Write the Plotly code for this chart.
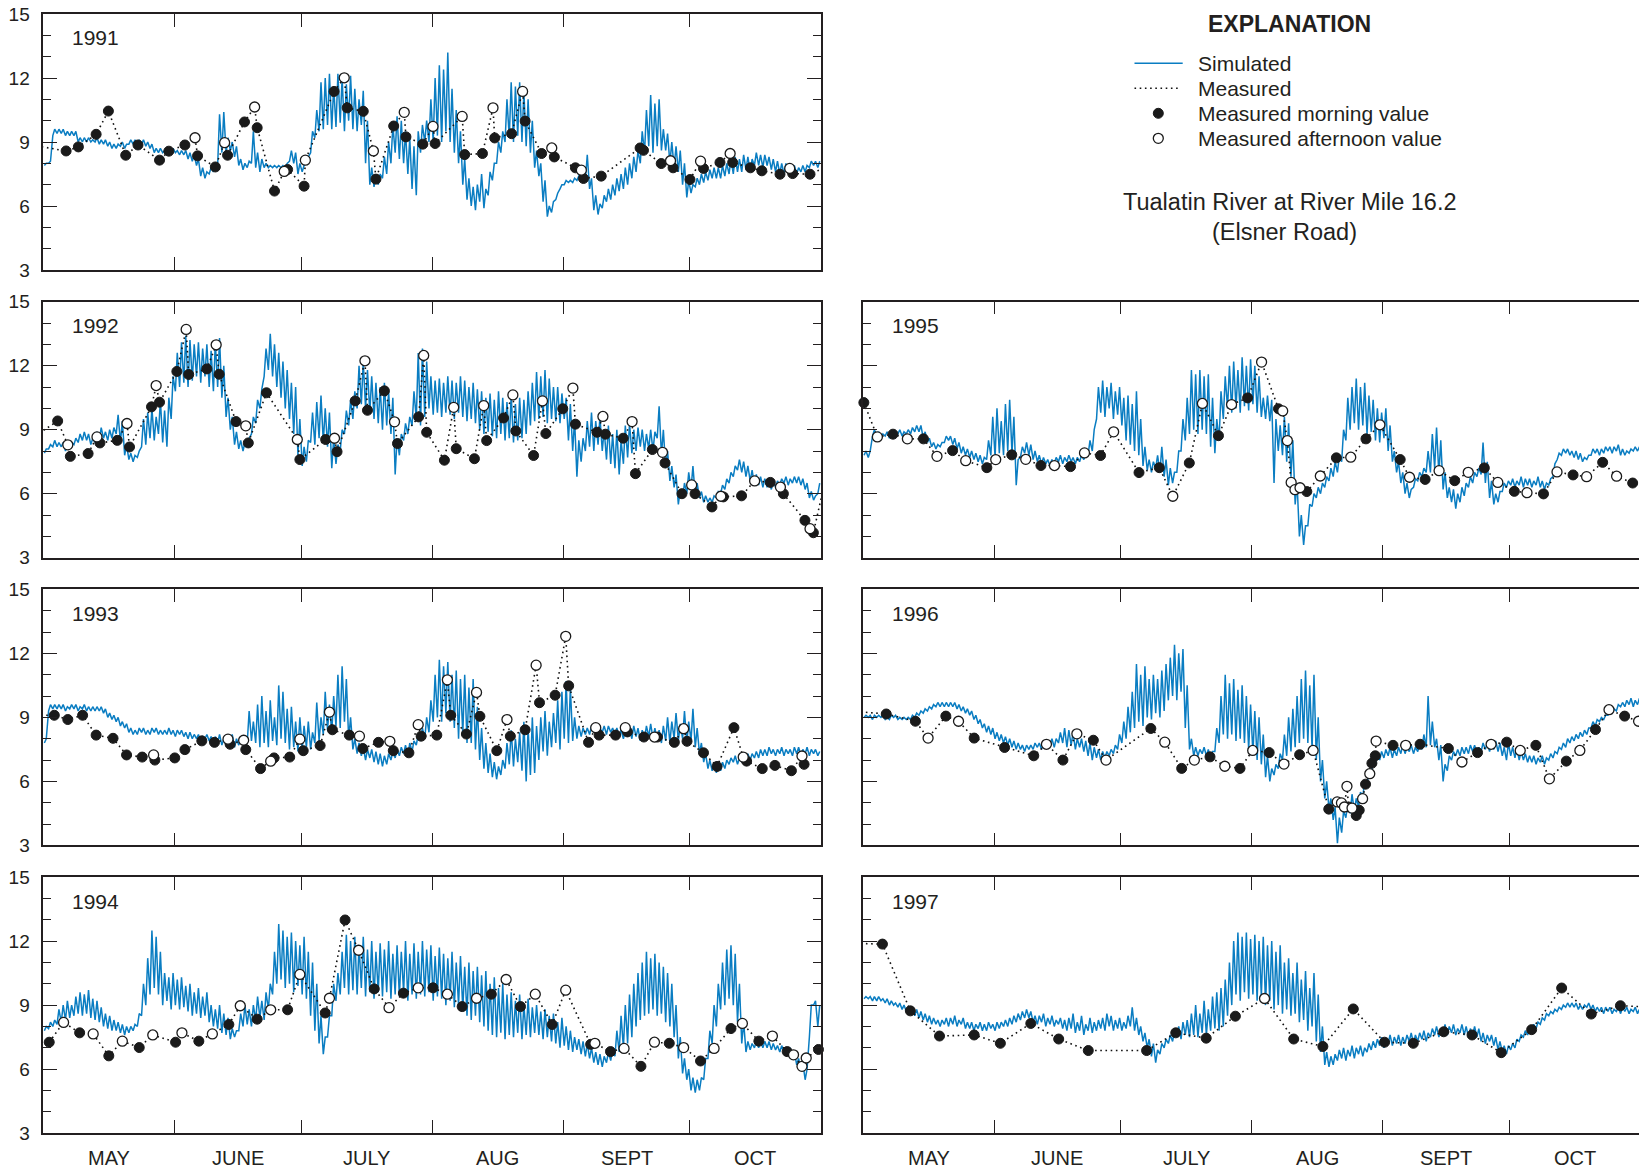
import plotly.graph_objects as go
from datetime import datetime, timedelta

# ---------------------------------------------------------------------------
# Dissolved oxygen (mg/L), Tualatin River at River Mile 16.2, May-October.
# Simulated series: daily morning low / afternoon high, one value per day from May 1.
# Measured series: day offsets from May 1 (fractional) and values.
# ---------------------------------------------------------------------------

sim_lo_1991 = [7.9, 8.0, 9.3, 9.4, 9.4, 9.3, 9.3, 9.3, 9.0, 9.0,
               9.0, 9.0, 9.0, 8.9, 8.9, 8.8, 8.7, 8.7, 8.8, 8.7,
               8.9, 8.9, 8.9, 8.9, 8.8, 8.7, 8.5, 8.5, 8.5, 8.4,
               8.5, 8.5, 8.4, 8.4, 8.2, 8.1, 7.9, 7.4, 7.3, 7.5,
               7.6, 7.9, 8.5, 8.5, 8.6, 8.3, 7.9, 7.7, 7.8, 8.0,
               7.8, 7.6, 7.8, 7.8, 7.8, 7.8, 7.8, 7.8, 8.1, 8.0,
               7.5, 7.6, 8.0, 8.5, 9.2, 9.5, 9.6, 9.8, 9.6, 9.7,
               9.9, 9.5, 10.0, 9.6, 9.5, 9.8, 8.0, 7.0, 6.9, 7.0,
               7.3, 7.5, 8.0, 8.5, 8.2, 8.0, 7.5, 6.8, 6.5, 8.5,
               9.0, 9.0, 9.0, 9.3, 9.0, 9.5, 9.0, 8.5, 8.0, 7.0,
               6.3, 6.0, 5.8, 6.2, 5.9, 6.5, 7.2, 8.0, 8.5, 9.0,
               9.2, 9.0, 9.3, 9.0, 8.8, 8.5, 7.8, 7.4, 6.2, 5.5,
               5.7, 6.3, 6.8, 7.0, 7.1, 7.1, 7.2, 7.3, 7.2, 6.8,
               5.8, 5.6, 5.9, 6.2, 6.3, 6.5, 6.7, 6.8, 7.0, 7.3,
               7.6, 8.0, 8.5, 8.8, 8.5, 8.8, 8.6, 8.6, 8.0, 7.8,
               7.6, 7.0, 6.4, 6.6, 6.9, 7.0, 7.1, 7.2, 7.3, 7.3,
               7.3, 7.4, 7.5, 7.5, 7.6, 7.6, 7.7, 7.6, 7.9, 7.9,
               7.8, 7.9, 7.7, 7.6, 7.5, 7.5, 7.6, 7.5, 7.5, 7.6,
               7.6, 7.8, 7.9, 7.8]
sim_hi_1991 = [8.0, 8.1, 9.6, 9.6, 9.6, 9.5, 9.5, 9.5, 9.2, 9.2,
               9.2, 9.1, 9.2, 9.1, 9.1, 9.0, 8.9, 8.9, 9.0, 8.9,
               9.1, 9.1, 9.1, 9.1, 9.0, 8.9, 8.7, 8.7, 8.6, 8.6,
               8.7, 8.6, 8.6, 8.6, 8.5, 8.4, 8.2, 7.8, 7.6, 7.8,
               7.9, 10.3, 10.4, 9.2, 9.0, 8.8, 8.2, 8.0, 8.1, 9.5,
               8.5, 8.2, 8.0, 7.9, 7.9, 7.9, 7.9, 8.0, 8.6, 8.5,
               8.0, 7.9, 8.3, 9.5, 10.5, 11.8, 12.0, 12.2, 11.6, 12.2,
               12.0, 11.7, 12.1, 11.5, 11.0, 11.4, 10.0, 7.8, 7.4, 7.5,
               8.3, 9.0, 9.8, 10.2, 10.0, 9.5, 9.2, 8.8, 9.5, 9.8,
               10.0, 11.0, 12.0, 12.6, 12.4, 13.2, 11.5, 10.5, 9.5, 8.2,
               7.3, 6.9, 7.0, 7.5, 6.8, 7.6, 8.0, 9.0, 9.5, 11.0,
               11.8, 11.6, 11.8, 11.4, 11.0, 10.0, 8.6, 8.0, 7.2, 6.0,
               6.2, 6.6, 7.0, 7.2, 7.2, 7.3, 7.4, 7.5, 8.4, 7.3,
               6.5, 6.1, 6.5, 6.8, 7.0, 7.3, 7.5, 7.8, 8.0, 8.3,
               8.6, 9.5, 10.5, 11.2, 10.8, 11.0, 9.6, 9.4, 9.0, 8.8,
               8.6, 8.0, 7.2, 7.0, 7.3, 7.5, 7.6, 7.7, 7.8, 7.8,
               7.9, 8.0, 8.2, 8.3, 8.2, 8.4, 8.3, 8.2, 8.5, 8.4,
               8.4, 8.3, 8.2, 8.1, 8.0, 8.0, 7.9, 7.9, 7.8, 7.9,
               7.9, 8.1, 8.1, 8.1]

sim_lo_1992 = [7.9, 8.1, 8.2, 8.2, 8.2, 8.0, 8.1, 8.3, 8.4, 8.5,
               8.5, 8.3, 8.4, 8.5, 8.6, 8.5, 8.6, 8.8, 8.4, 7.8,
               7.6, 7.5, 7.7, 8.2, 8.3, 8.6, 8.5, 8.8, 8.4, 8.2,
               9.5, 10.8, 11.0, 11.2, 11.0, 11.3, 11.5, 11.2, 11.5, 11.0,
               10.8, 11.0, 10.5, 9.6, 9.0, 8.3, 8.1, 8.0, 8.2, 8.8,
               9.3, 10.0, 11.5, 11.8, 11.5, 11.0, 10.5, 10.0, 9.5, 8.8,
               7.8, 7.3, 7.5, 8.4, 8.3, 8.6, 8.4, 8.2, 7.2, 7.4,
               8.0, 8.8, 9.2, 9.5, 10.0, 10.2, 10.0, 9.8, 9.5, 9.3,
               9.0, 9.2, 8.8, 6.9, 7.8, 8.5, 8.8, 9.2, 9.5, 9.2,
               9.6, 10.0, 9.7, 9.8, 9.6, 9.8, 9.7, 9.5, 9.8, 9.6,
               9.4, 9.5, 9.3, 9.0, 8.8, 8.9, 8.7, 8.6, 8.8, 8.5,
               8.6, 8.4, 8.5, 8.6, 8.8, 9.2, 9.4, 9.5, 9.6, 9.3,
               9.5, 9.4, 9.3, 9.5, 8.5, 8.0, 6.8, 7.5, 8.0, 8.2,
               8.0, 8.3, 8.0, 7.6, 7.4, 7.2, 6.9, 7.4, 7.7, 7.9,
               8.0, 8.2, 8.0, 8.1, 8.0, 8.6, 7.8, 7.2, 6.6, 6.3,
               5.5, 5.8, 6.0, 6.2, 5.9, 5.8, 5.6, 5.6, 5.6, 5.8,
               6.0, 6.2, 6.5, 6.8, 7.1, 7.0, 6.8, 6.6, 6.4, 6.4,
               6.3, 6.3, 6.2, 6.3, 6.4, 6.5, 6.4, 6.5, 6.5, 6.4,
               6.2, 5.8, 5.7, 6.0]
sim_hi_1992 = [8.1, 8.3, 8.5, 8.4, 8.4, 8.3, 8.4, 8.6, 8.8, 8.9,
               8.8, 8.6, 8.9, 9.1, 8.9, 9.0, 9.1, 9.7, 9.4, 8.3,
               7.9, 7.8, 8.0, 9.5, 9.8, 10.0, 9.6, 10.4, 9.9, 10.5,
               11.5, 12.6, 13.1, 13.4, 13.2, 13.0, 13.1, 12.8, 13.0, 12.7,
               13.1, 13.3, 12.0, 10.5, 9.6, 8.9, 8.5, 8.4, 8.6, 9.6,
               10.4, 10.9, 12.8, 13.5, 13.0, 12.6, 12.2, 11.8, 11.2, 11.0,
               9.5, 8.2, 8.5, 9.8, 10.3, 10.6, 10.0, 9.8, 8.6, 8.3,
               9.0, 9.9, 10.4, 10.8, 12.0, 12.2, 11.8, 11.5, 11.2, 11.0,
               11.2, 10.8, 10.5, 8.6, 8.8, 9.3, 9.6, 10.8, 12.6, 12.8,
               12.2, 11.5, 11.3, 11.4, 11.2, 11.5, 11.3, 11.2, 11.5, 11.3,
               11.0, 11.2, 10.9, 10.8, 10.5, 10.7, 10.4, 10.8, 10.5, 10.3,
               10.6, 10.2, 10.5, 10.4, 10.8, 11.2, 11.7, 11.5, 11.8, 11.4,
               11.0, 11.0, 10.7, 10.5, 10.2, 9.5, 8.5, 8.6, 9.4, 9.8,
               9.4, 9.6, 9.0, 9.2, 8.8, 9.0, 8.5, 9.2, 9.3, 9.0,
               9.1, 9.0, 8.8, 9.0, 8.9, 10.1, 9.0, 8.0, 7.3, 6.9,
               6.2, 6.5, 7.0, 7.3, 6.5, 6.1, 5.9, 5.8, 5.9, 6.1,
               6.4, 6.7, 7.0, 7.3, 7.6, 7.5, 7.3, 7.1, 6.9, 6.8,
               6.7, 6.6, 6.6, 6.6, 6.7, 6.8, 6.7, 6.8, 6.8, 6.7,
               6.5, 6.1, 5.9, 6.5]

sim_lo_1993 = [7.8, 9.3, 9.4, 9.4, 9.4, 9.3, 9.4, 9.4, 9.3, 9.4,
               9.3, 9.3, 9.3, 9.3, 9.2, 9.0, 8.9, 8.8, 8.6, 8.5,
               8.3, 8.2, 8.2, 8.3, 8.2, 8.2, 8.3, 8.2, 8.2, 8.2,
               8.2, 8.1, 8.2, 8.1, 8.0, 8.0, 8.0, 7.9, 8.0, 7.9,
               7.8, 7.8, 7.7, 7.8, 7.8, 7.6, 7.7, 7.8, 7.8, 7.9,
               7.8, 7.6, 7.8, 7.6, 7.9, 7.7, 8.0, 7.8, 7.5, 7.6,
               7.4, 7.5, 7.6, 7.5, 7.8, 7.9, 8.2, 8.4, 8.3, 8.6,
               8.5, 8.8, 8.0, 7.5, 7.3, 7.2, 7.0, 7.1, 6.9, 6.8,
               6.7, 6.8, 7.0, 7.1, 7.2, 7.3, 7.2, 7.4, 7.7, 7.9,
               8.0, 8.3, 8.8, 9.0, 8.8, 9.2, 8.8, 8.5, 8.0, 8.2,
               7.8, 7.8, 7.5, 7.0, 6.6, 6.4, 6.2, 6.1, 6.3, 6.6,
               6.8, 6.7, 6.9, 6.5, 6.0, 6.3, 6.4, 7.0, 7.4, 7.2,
               7.6, 7.8, 7.5, 8.0, 7.8, 7.9, 8.0, 8.1, 8.2, 8.2,
               8.3, 8.2, 8.3, 8.2, 8.3, 8.2, 8.1, 8.0, 8.1, 8.0,
               8.1, 7.9, 8.0, 8.1, 8.0, 7.9, 7.8, 7.9, 7.8, 8.0,
               7.9, 8.0, 7.8, 7.9, 7.6, 7.3, 6.9, 6.6, 6.5, 6.4,
               6.5, 6.6, 6.8, 6.9, 6.8, 6.9, 7.0, 7.0, 7.1, 7.1,
               7.2, 7.2, 7.3, 7.2, 7.3, 7.2, 7.3, 7.2, 7.3, 7.2,
               7.3, 7.2, 7.3, 7.2]
sim_hi_1993 = [8.0, 9.6, 9.6, 9.6, 9.6, 9.5, 9.6, 9.6, 9.5, 9.6,
               9.5, 9.5, 9.5, 9.5, 9.4, 9.2, 9.1, 9.0, 8.8, 8.7,
               8.5, 8.4, 8.5, 8.5, 8.4, 8.5, 8.5, 8.4, 8.4, 8.5,
               8.4, 8.4, 8.4, 8.3, 8.3, 8.2, 8.2, 8.1, 8.2, 8.1,
               8.1, 8.2, 8.0, 8.1, 8.2, 8.0, 8.1, 8.1, 9.3, 8.8,
               9.6, 10.0, 9.3, 9.8, 9.0, 10.5, 10.2, 9.4, 9.5, 8.8,
               9.0, 8.6, 8.8, 8.3, 9.7, 9.0, 10.2, 9.6, 10.0, 11.0,
               11.4, 10.8, 9.0, 8.0, 7.8, 7.6, 7.5, 7.5, 7.4, 7.3,
               7.2, 7.3, 7.4, 7.5, 7.6, 7.7, 7.8, 7.9, 8.2, 8.5,
               9.0, 9.8, 11.0, 11.7, 11.4, 11.6, 11.0, 11.2, 10.8, 11.0,
               10.4, 10.8, 9.5, 8.5, 7.8, 7.3, 6.9, 6.7, 7.0, 7.8,
               8.4, 8.0, 8.3, 8.8, 8.5, 9.0, 8.6, 9.0, 9.3, 8.8,
               9.2, 9.8, 10.2, 10.7, 10.4, 9.0, 8.6, 8.5, 8.5, 8.6,
               8.6, 8.5, 8.6, 8.6, 8.5, 8.5, 8.4, 8.4, 8.5, 8.6,
               8.5, 8.4, 8.6, 8.7, 8.5, 8.4, 8.6, 9.0, 8.8, 9.2,
               8.7, 9.3, 8.8, 9.4, 8.5, 7.8, 7.3, 7.0, 6.9, 6.8,
               6.9, 7.0, 7.1, 7.2, 7.1, 7.2, 7.3, 7.3, 7.4, 7.5,
               7.5, 7.6, 7.5, 7.5, 7.6, 7.5, 7.5, 7.6, 7.6, 7.5,
               7.6, 7.5, 7.5, 7.4]

sim_lo_1994 = [7.8, 7.9, 8.0, 8.1, 8.2, 8.3, 8.4, 8.5, 8.6, 8.5,
               8.6, 8.4, 8.3, 8.2, 8.0, 7.9, 7.8, 7.8, 7.7, 7.6,
               7.7, 7.8, 8.0, 8.5, 9.0, 9.5, 9.8, 9.5, 9.0, 9.2,
               8.8, 9.0, 8.8, 8.9, 8.7, 8.5, 8.6, 8.4, 8.5, 8.2,
               8.0, 7.9, 7.7, 7.6, 7.4, 7.5, 7.8, 8.0, 8.1, 8.0,
               8.3, 8.4, 8.3, 8.8, 9.5, 10.0, 10.2, 9.8, 10.0, 9.6,
               9.9, 9.5, 9.3, 8.5, 7.8, 7.2, 6.7, 7.5, 8.5, 9.2,
               9.5, 9.8, 9.5, 9.7, 9.5, 9.8, 9.4, 9.6, 9.3, 9.6,
               9.4, 9.6, 9.3, 9.5, 9.4, 9.6, 9.2, 9.5, 9.3, 9.5,
               9.4, 9.6, 9.2, 9.4, 9.3, 9.0, 9.2, 8.9, 9.0, 8.8,
               8.5, 8.3, 8.5, 8.2, 8.0, 7.8, 7.6, 7.5, 7.7, 7.4,
               7.6, 7.5, 7.7, 7.4, 7.6, 7.5, 7.7, 7.6, 7.4, 7.5,
               7.3, 7.2, 7.0, 7.1, 6.9, 6.8, 6.9, 6.7, 6.6, 6.5,
               6.3, 6.2, 6.1, 6.3, 6.4, 6.6, 6.8, 7.0, 7.2, 7.5,
               8.0, 8.3, 8.5, 8.6, 8.8, 8.5, 8.6, 8.2, 8.0, 7.5,
               6.5, 5.8, 5.5, 5.0, 4.9, 5.0, 5.5, 6.5, 7.2, 8.0,
               8.8, 9.0, 9.3, 9.0, 8.2, 7.2, 6.8, 6.9, 7.0, 7.0,
               7.0, 7.0, 6.9, 6.9, 6.8, 6.8, 6.7, 6.5, 6.2, 6.0,
               5.5, 7.5, 9.0, 8.0]
sim_hi_1994 = [8.0, 8.2, 8.3, 8.8, 9.0, 9.2, 9.0, 9.4, 9.6, 9.5,
               9.7, 9.3, 9.2, 8.9, 8.6, 8.5, 8.3, 8.2, 8.1, 8.0,
               8.0, 8.1, 8.6, 10.0, 11.2, 12.5, 12.2, 11.5, 10.5, 10.3,
               10.5, 10.2, 10.3, 9.9, 10.0, 9.6, 9.8, 9.4, 9.6, 9.0,
               8.8, 9.0, 8.6, 8.4, 7.9, 7.8, 8.6, 9.0, 8.8, 9.0,
               9.4, 9.2, 9.6, 10.0, 11.5, 12.8, 12.5, 12.2, 12.4, 12.0,
               11.8, 12.2, 11.5, 11.0, 10.0, 8.5, 7.5, 8.5, 10.0, 10.5,
               11.5, 12.3, 12.0, 12.2, 11.8, 12.2, 11.6, 12.0, 11.5, 11.9,
               11.6, 12.0, 11.4, 11.8, 11.5, 12.0, 11.4, 11.9, 11.5, 12.0,
               11.6, 11.8, 11.3, 11.7, 11.4, 11.2, 11.5, 11.0, 11.3, 10.8,
               11.0, 10.6, 10.8, 10.4, 10.6, 10.0, 10.3, 9.8, 10.0, 9.5,
               9.6, 9.2, 9.5, 9.0, 9.3, 8.9, 9.0, 8.7, 8.8, 8.5,
               8.6, 8.2, 8.4, 8.0, 7.8, 7.5, 7.4, 7.3, 7.2, 7.0,
               6.8, 6.7, 6.6, 6.8, 7.0, 7.8, 8.5, 9.0, 9.5, 10.0,
               10.5, 11.0, 11.5, 11.2, 11.4, 11.0, 10.8, 10.5, 10.0, 9.0,
               7.5, 6.5, 6.0, 5.6, 5.5, 5.6, 6.5, 7.8, 9.0, 10.0,
               11.0, 11.6, 11.8, 11.4, 10.0, 8.2, 7.3, 7.2, 7.3, 7.3,
               7.3, 7.3, 7.2, 7.1, 7.1, 7.0, 7.0, 6.8, 6.5, 6.3,
               6.0, 9.0, 9.2, 9.0]

sim_lo_1995 = [7.8, 7.7, 8.7, 8.7, 8.6, 8.7, 8.6, 8.7, 8.8, 8.7,
               8.8, 8.8, 8.9, 8.9, 8.6, 8.4, 8.2, 8.1, 8.2, 8.4,
               8.5, 8.3, 8.1, 7.9, 7.8, 7.7, 7.6, 7.5, 7.4, 7.6,
               7.8, 7.7, 7.9, 7.8, 8.0, 7.9, 6.4, 7.7, 7.9, 7.8,
               7.6, 7.5, 7.4, 7.4, 7.3, 7.4, 7.5, 7.4, 7.5, 7.5,
               7.4, 7.5, 7.6, 7.8, 8.0, 9.5, 9.8, 9.6, 10.0, 9.5,
               9.7, 9.2, 8.5, 8.3, 8.0, 7.8, 7.3, 7.1, 7.0, 7.2,
               7.0, 6.8, 6.4, 6.5, 7.0, 8.0, 8.5, 8.8, 9.0, 8.8,
               9.0, 8.8, 8.2, 7.9, 8.5, 9.5, 10.0, 9.8, 10.0, 9.8,
               10.1, 9.9, 10.2, 9.8, 9.6, 9.5, 9.4, 6.5, 8.0, 7.8,
               7.5, 6.8, 5.5, 4.0, 3.6, 4.5, 5.4, 5.8, 6.0, 6.3,
               6.6, 6.8, 7.0, 7.5, 8.5, 9.0, 9.3, 9.0, 9.2, 8.8,
               8.9, 8.5, 8.4, 8.6, 8.0, 7.5, 7.0, 6.5, 6.0, 5.8,
               6.3, 6.6, 6.8, 7.0, 7.0, 7.2, 6.9, 6.2, 5.8, 5.6,
               5.3, 5.6, 5.9, 6.3, 6.5, 6.8, 6.9, 6.5, 5.8, 5.5,
               5.6, 6.1, 6.3, 6.4, 6.3, 6.4, 6.3, 6.4, 6.3, 6.4,
               6.3, 6.2, 6.4, 6.8, 7.6, 7.8, 7.9, 7.8, 7.7, 7.6,
               7.5, 7.6, 7.8, 7.9, 7.8, 7.9, 8.0, 7.9, 8.0, 7.8,
               7.8, 7.9, 8.0, 8.0]
sim_hi_1995 = [8.0, 8.0, 9.0, 8.9, 8.8, 8.9, 8.9, 8.9, 9.0, 8.9,
               9.0, 9.1, 9.2, 9.2, 8.9, 8.6, 8.4, 8.3, 8.4, 8.7,
               8.7, 8.6, 8.4, 8.2, 8.1, 8.0, 7.9, 7.8, 7.7, 8.5,
               9.6, 10.0, 9.4, 10.2, 10.4, 9.6, 7.6, 8.2, 8.4, 8.3,
               8.0, 7.8, 7.7, 7.6, 7.6, 7.7, 7.8, 7.7, 7.8, 7.7,
               7.7, 7.8, 7.8, 8.5, 9.0, 11.0, 11.3, 11.0, 11.2, 10.8,
               11.0, 10.5, 10.6, 10.2, 10.8, 9.5, 8.2, 7.6, 7.5, 7.8,
               8.2, 7.6, 7.2, 7.0, 8.0, 9.5, 10.5, 11.8, 11.6, 11.8,
               11.5, 11.6, 10.5, 9.5, 10.8, 11.5, 12.0, 12.2, 11.8, 12.4,
               12.0, 12.3, 12.0, 11.5, 10.5, 10.6, 10.4, 9.5, 9.2, 9.6,
               9.3, 8.5, 6.5, 5.0, 4.5, 5.5, 6.0, 6.3, 6.5, 6.8,
               7.2, 7.5, 7.8, 9.0, 10.5, 11.0, 11.4, 11.0, 11.2, 10.6,
               10.4, 10.0, 9.8, 10.0, 9.2, 8.0, 7.5, 7.0, 6.5, 6.2,
               6.7, 7.0, 7.2, 8.0, 8.8, 9.1, 8.5, 7.0, 6.3, 6.2,
               6.0, 6.3, 6.5, 6.8, 7.0, 7.2, 8.4, 7.5, 6.6, 6.0,
               6.1, 6.5, 6.6, 6.7, 6.6, 6.8, 6.7, 6.7, 6.6, 6.8,
               6.6, 6.5, 6.7, 7.4, 7.9, 8.1, 8.1, 8.0, 8.0, 7.9,
               7.7, 7.8, 8.1, 8.1, 8.1, 8.2, 8.2, 8.2, 8.3, 8.1,
               8.0, 8.1, 8.2, 8.2]

sim_lo_1996 = [9.0, 9.0, 8.9, 9.0, 9.0, 8.9, 8.9, 9.0, 8.9, 8.9,
               8.9, 8.9, 9.0, 9.1, 9.2, 9.3, 9.4, 9.5, 9.5, 9.5,
               9.5, 9.5, 9.4, 9.3, 9.2, 9.1, 8.9, 8.7, 8.5, 8.3,
               8.2, 8.0, 7.9, 7.8, 7.7, 7.6, 7.5, 7.5, 7.4, 7.5,
               7.5, 7.6, 7.5, 7.6, 7.7, 7.6, 7.8, 7.8, 7.6, 7.7,
               7.5, 7.6, 7.4, 7.2, 7.0, 7.1, 7.0, 7.1, 7.2, 7.3,
               7.5, 7.8, 8.0, 8.3, 8.5, 8.8, 8.6, 9.0, 8.9, 9.2,
               9.0, 9.3, 9.8, 10.0, 9.8, 10.2, 8.5, 7.5, 7.2, 7.2,
               7.3, 7.2, 7.0, 7.4, 7.8, 8.2, 8.0, 8.2, 7.9, 8.0,
               7.8, 7.5, 7.3, 7.0, 6.8, 6.2, 6.0, 6.3, 6.6, 7.0,
               7.2, 7.4, 7.6, 7.8, 8.0, 7.8, 7.5, 7.0, 6.0, 5.2,
               4.7, 4.2, 3.1, 3.6, 4.3, 4.5, 4.6, 4.8, 5.3, 5.8,
               6.3, 6.8, 7.0, 7.1, 7.2, 7.1, 7.2, 7.3, 7.3, 7.4,
               7.3, 7.4, 7.5, 7.6, 7.7, 7.6, 7.0, 6.0, 6.5, 7.0,
               7.2, 7.2, 7.3, 7.3, 7.4, 7.3, 7.4, 7.5, 7.4, 7.5,
               7.4, 7.2, 7.0, 7.2, 7.1, 7.0, 7.0, 6.9, 6.9, 6.8,
               6.9, 6.8, 7.0, 7.1, 7.3, 7.5, 7.6, 7.8, 7.9, 8.0,
               8.1, 8.2, 8.5, 8.6, 8.8, 8.9, 9.1, 9.2, 9.3, 9.5,
               9.5, 9.6, 9.5, 9.6]
sim_hi_1996 = [9.1, 9.1, 9.1, 9.1, 9.1, 9.0, 9.1, 9.1, 9.0, 9.0,
               9.0, 9.1, 9.2, 9.3, 9.4, 9.5, 9.6, 9.7, 9.7, 9.7,
               9.7, 9.7, 9.6, 9.5, 9.4, 9.3, 9.1, 8.9, 8.7, 8.6,
               8.5, 8.3, 8.2, 8.1, 8.0, 7.9, 7.8, 7.7, 7.7, 7.7,
               7.8, 7.8, 7.9, 7.9, 8.0, 8.0, 8.3, 8.5, 8.4, 8.3,
               8.0, 8.0, 7.9, 7.8, 7.6, 7.5, 7.4, 7.4, 7.5, 7.7,
               8.2, 8.8, 9.5, 10.2, 11.5, 11.0, 11.4, 10.8, 11.0, 10.8,
               11.2, 11.5, 11.8, 12.4, 12.0, 12.2, 10.5, 8.0, 7.6, 7.5,
               7.6, 7.5, 7.4, 8.5, 10.0, 11.0, 10.6, 10.8, 10.3, 10.5,
               10.0, 9.6, 9.3, 9.0, 8.2, 7.2, 6.6, 6.8, 7.3, 8.2,
               9.0, 9.4, 10.0, 10.8, 11.2, 10.5, 11.0, 9.0, 7.0, 6.0,
               5.2, 4.8, 4.3, 4.6, 5.0, 5.4, 5.2, 5.5, 6.0, 6.5,
               7.0, 7.3, 7.4, 7.5, 7.6, 7.5, 7.6, 7.7, 7.6, 7.7,
               7.6, 7.8, 8.2, 10.0, 8.8, 8.0, 7.7, 6.8, 7.2, 7.4,
               7.5, 7.6, 7.6, 7.7, 7.7, 7.6, 7.8, 7.8, 7.8, 7.9,
               7.8, 7.6, 7.8, 7.6, 7.6, 7.4, 7.3, 7.2, 7.2, 7.1,
               7.2, 7.1, 7.3, 7.4, 7.6, 7.8, 8.0, 8.1, 8.2, 8.3,
               8.4, 8.5, 8.8, 8.9, 9.0, 9.1, 9.3, 9.4, 9.6, 9.7,
               9.8, 9.9, 9.8, 9.9]

sim_lo_1997 = [9.3, 9.3, 9.2, 9.2, 9.2, 9.1, 9.0, 9.0, 8.9, 8.8,
               8.7, 8.6, 8.5, 8.4, 8.3, 8.2, 8.1, 8.1, 8.0, 8.1,
               8.0, 8.1, 8.0, 8.1, 7.9, 7.9, 7.8, 7.9, 7.8, 7.8,
               7.9, 7.8, 7.9, 8.0, 8.0, 8.1, 8.2, 8.3, 8.4, 8.4,
               8.2, 8.1, 8.2, 8.0, 8.1, 8.0, 8.1, 7.9, 7.8, 7.9,
               7.7, 7.8, 7.6, 7.8, 7.7, 7.8, 7.9, 7.8, 8.0, 7.8,
               7.9, 7.8, 7.9, 8.0, 7.8, 7.6, 7.3, 7.0, 6.6, 6.3,
               6.7, 7.0, 7.2, 7.3, 7.5, 7.4, 7.6, 7.5, 7.6, 7.5,
               7.7, 7.6, 7.8, 7.9, 7.8, 8.0, 8.5, 9.0, 9.5, 9.2,
               9.6, 9.3, 9.5, 9.2, 9.4, 9.0, 9.2, 8.8, 9.0, 8.6,
               8.8, 8.5, 8.6, 8.2, 8.3, 7.8, 8.0, 7.3, 6.8, 6.2,
               6.1, 6.2, 6.4, 6.5, 6.4, 6.6, 6.5, 6.7, 6.6, 6.8,
               6.9, 7.0, 7.1, 7.0, 7.2, 7.1, 7.2, 7.1, 7.2, 7.3,
               7.2, 7.3, 7.4, 7.3, 7.5, 7.6, 7.5, 7.7, 7.6, 7.7,
               7.6, 7.7, 7.6, 7.5, 7.6, 7.5, 7.3, 7.2, 7.3, 7.1,
               6.9, 6.8, 6.7, 6.9, 7.0, 7.3, 7.5, 7.6, 7.8, 7.9,
               8.1, 8.3, 8.5, 8.6, 8.7, 8.8, 8.9, 8.9, 8.9, 8.8,
               8.8, 8.9, 8.8, 8.7, 8.7, 8.6, 8.7, 8.6, 8.7, 8.6,
               8.7, 8.6, 8.7, 8.6]
sim_hi_1997 = [9.4, 9.4, 9.4, 9.4, 9.3, 9.3, 9.2, 9.1, 9.1, 9.0,
               8.9, 8.9, 8.8, 8.7, 8.6, 8.5, 8.4, 8.3, 8.3, 8.4,
               8.4, 8.5, 8.3, 8.4, 8.2, 8.2, 8.1, 8.2, 8.1, 8.2,
               8.1, 8.2, 8.2, 8.3, 8.4, 8.5, 8.6, 8.7, 8.8, 8.7,
               8.5, 8.5, 8.6, 8.4, 8.5, 8.3, 8.4, 8.3, 8.4, 8.6,
               8.2, 8.5, 8.1, 8.4, 8.2, 8.3, 8.4, 8.6, 8.5, 8.3,
               8.4, 8.2, 8.5, 8.9, 8.4, 8.0, 7.7, 7.4, 7.2, 6.9,
               7.2, 7.4, 7.6, 7.8, 8.0, 8.2, 8.3, 8.6, 9.0, 8.6,
               9.2, 8.8, 9.4, 9.6, 9.8, 10.2, 11.0, 12.0, 12.4, 12.2,
               12.4, 12.1, 12.3, 12.0, 12.2, 11.8, 12.0, 11.5, 11.8, 11.0,
               11.2, 10.5, 11.0, 10.2, 10.6, 9.8, 10.5, 9.5, 8.0, 6.8,
               6.6, 6.7, 6.9, 7.0, 6.9, 7.1, 7.0, 7.1, 7.0, 7.2,
               7.3, 7.4, 7.5, 7.4, 7.6, 7.5, 7.6, 7.5, 7.6, 7.7,
               7.6, 7.7, 7.8, 7.7, 7.9, 8.0, 7.9, 8.1, 8.0, 8.1,
               7.9, 8.1, 8.0, 7.9, 8.0, 7.9, 7.7, 7.6, 7.6, 7.5,
               7.3, 7.1, 7.1, 7.2, 7.4, 7.6, 7.8, 7.9, 8.1, 8.2,
               8.4, 8.6, 8.7, 8.8, 8.9, 9.0, 9.1, 9.1, 9.1, 9.0,
               9.0, 9.1, 9.0, 8.9, 8.9, 8.9, 8.9, 8.8, 8.9, 8.9,
               8.9, 8.8, 8.9, 8.8]

# Measured values: morning (am) and afternoon (pm) samples
am_day_1991 = [-4, 5.4, 8.3, 12.5, 15.4, 19.5, 22.4, 27.5, 29.7, 33.5, 36.5, 40.7, 43.6,
               47.6, 50.6, 54.7, 57.8, 61.7, 68.8, 71.9, 75.7, 78.7, 82.9, 85.8, 89.8,
               92.7, 99.7, 103.9, 106.8, 110.8, 114.0, 117.9, 120.9, 125.9, 127.8, 132.0,
               141.2, 142.0, 146.2, 149.0, 153.0, 156.2, 160.1, 163.1, 167.3, 170.0,
               174.3, 177.3, 181.4, 186]
am_val_1991 = [8.9, 8.58, 8.77, 9.36, 10.45, 8.38, 8.86, 8.15, 8.57, 8.86, 8.35, 7.83, 8.38,
               9.94, 9.67, 6.7, 7.71, 6.93, 11.37, 10.6, 10.44, 7.26, 9.75, 9.24, 8.9,
               8.93, 8.41, 8.46, 9.19, 9.39, 9.98, 8.46, 8.3, 7.79, 7.29, 7.4,
               8.72, 8.61, 7.99, 7.79, 7.24, 7.76, 8.04, 8.04, 7.79, 7.65,
               7.49, 7.52, 7.49, 7.9]
pm_day_1991 = [35.9, 42.9, 50.0, 57.0, 62.0, 71.2, 78.1, 85.4, 92.2, 99.1, 106.4, 113.4,
               120.3, 127.3, 148.4, 155.5, 162.5, 176.6]
pm_val_1991 = [9.2, 8.97, 10.64, 7.62, 8.15, 12.01, 8.58, 10.39, 9.73, 10.2, 10.6, 11.37,
               8.72, 7.68, 8.12, 8.1, 8.46, 7.76]

am_day_1992 = [-2, 3.4, 6.4, 10.6, 13.4, 17.5, 20.4, 25.6, 27.5, 31.6, 34.4, 38.7, 41.6,
               45.6, 48.5, 52.8, 60.7, 66.8, 69.5, 73.8, 76.7, 80.7, 83.8, 88.8, 90.7,
               94.9, 97.7, 102.0, 104.9, 108.9, 111.8, 116.0, 118.9, 122.9, 125.9, 131.0,
               133.0, 137.2, 140.1, 144.1, 147.1, 151.1, 154.2, 158.2, 160.9, 165.2,
               172.0, 175.1, 180.2, 182.2, 186]
am_val_1992 = [8.7, 9.41, 7.75, 7.88, 8.38, 8.5, 8.19, 10.07, 10.29, 11.73, 11.59, 11.85, 11.6,
               9.38, 8.38, 10.73, 7.6, 8.54, 7.97, 10.35, 9.91, 10.82, 8.35, 9.6, 8.88,
               7.57, 8.11, 7.64, 8.49, 9.55, 8.94, 7.79, 8.82, 9.98, 9.26, 8.88,
               8.79, 8.6, 6.94, 8.07, 7.44, 6.0, 6.0, 5.38, 5.85, 5.9,
               6.53, 6.0, 4.75, 4.17, 7.5]
pm_day_1992 = [5.8, 12.7, 19.8, 26.7, 33.8, 40.9, 47.9, 60.1, 68.9, 76.1, 83.1, 90.0, 97.1,
               104.2, 111.1, 118.1, 125.3, 132.4, 139.3, 146.5, 153.4, 160.3, 168.3,
               174.4, 181.4]
pm_val_1992 = [8.29, 8.66, 9.29, 11.07, 13.70, 12.98, 9.18, 8.54, 8.6, 12.23, 9.37, 12.48, 10.05,
               10.13, 10.63, 10.35, 10.95, 9.62, 9.38, 7.94, 6.41, 5.88, 6.6,
               6.31, 4.36]

am_day_1993 = [-3, 2.6, 5.8, 9.3, 12.5, 16.5, 19.7, 23.4, 26.4, 31.1, 33.5, 37.5, 40.5,
               44.2, 47.9, 51.4, 54.6, 58.3, 61.5, 65.5, 68.4, 72.4, 75.6, 79.3, 82.8,
               86.5, 89.4, 93.1, 96.4, 100.1, 103.3, 107.3, 110.5, 114.0, 117.4, 121.1,
               124.3, 129.0, 131.5, 135.4, 138.2, 142.1, 145.3, 149.3, 152.3, 156.2,
               159.4, 163.4, 166.4, 170.1, 173.1, 177.0, 180.0]
am_val_1993 = [9.1, 9.1, 8.9, 9.1, 8.17, 8.02, 7.24, 7.14, 7.0, 7.1, 7.49, 7.9, 7.83,
               7.74, 7.49, 6.6, 7.1, 7.14, 7.44, 7.68, 8.42, 8.17, 7.54, 7.83, 7.44,
               7.34, 8.12, 8.17, 9.1, 8.22, 9.05, 7.44, 8.12, 8.42, 9.69, 10.04,
               10.48, 7.83, 8.17, 8.17, 8.32, 8.08, 8.08, 7.83, 7.88, 7.34,
               6.7, 8.52, 6.95, 6.6, 6.75, 6.5, 6.8]
pm_day_1993 = [26.1, 43.7, 47.4, 53.8, 60.7, 67.7, 74.8, 82.0, 88.7, 95.6, 102.5, 109.7,
               116.6, 123.6, 130.7, 137.7, 144.6, 151.5, 165.6, 179.5]
pm_val_1993 = [7.24, 7.98, 7.93, 6.95, 7.98, 9.25, 8.12, 7.88, 8.66, 10.76, 10.17, 8.9,
               11.45, 12.8, 8.52, 8.52, 8.08, 8.47, 7.14, 7.19]

am_day_1994 = [1.4, 8.6, 15.5, 22.7, 31.3, 36.8, 43.9, 50.6, 57.8, 66.7, 71.4, 78.3, 85.2,
               92.2, 99.1, 106.0, 112.9, 120.4, 129.5, 134.2, 141.4, 148.1, 155.5, 162.7,
               169.3, 176.0, 183.4]
am_val_1994 = [7.26, 7.7, 6.62, 7.01, 7.26, 7.31, 8.09, 8.34, 8.78, 8.63, 12.99, 9.76, 9.56,
               9.81, 8.93, 9.51, 8.93, 8.09, 7.16, 6.82, 6.13, 7.21, 6.38, 7.9,
               7.31, 6.82, 6.92]
pm_day_1994 = [4.8, 11.8, 18.7, 25.9, 32.8, 40.0, 46.6, 53.8, 60.7, 67.7, 74.6, 81.8, 88.7,
               95.6, 102.5, 109.5, 116.4, 123.6, 130.5, 137.4, 144.6, 151.5, 158.7, 165.4,
               172.5, 177.5, 179.5, 180.5]
pm_val_1994 = [8.19, 7.65, 7.31, 7.6, 7.7, 7.65, 8.97, 8.78, 10.44, 9.32, 11.57, 8.88, 9.81,
               9.51, 9.32, 10.2, 9.51, 9.7, 7.21, 6.97, 7.26, 7.01, 6.97, 8.14,
               7.55, 6.67, 6.13, 6.52]

am_day_1995 = [0.2, 7.1, 14.3, 21.2, 29.3, 35.2, 42.1, 49.1, 56.2, 65.3, 70.1, 77.2, 84.1,
               91.0, 98.3, 105.0, 112.0, 119.0, 127.1, 133.0, 140.0, 147.0, 154.1, 161.0,
               168.0, 175.0, 182.1]
am_val_1995 = [10.27, 8.79, 8.57, 8.02, 7.22, 7.82, 7.32, 7.27, 7.79, 6.99, 7.22, 7.44, 8.72,
               10.49, 9.98, 6.1, 7.68, 8.57, 7.6, 6.67, 6.61, 7.21, 6.11, 5.99,
               6.88, 7.47, 6.5]
pm_day_1995 = [3.4, 10.5, 17.5, 24.3, 31.4, 38.5, 45.3, 52.4, 59.3, 73.3, 80.3, 87.2, 94.3,
               99.3, 100.4, 101.3, 102.2, 103.4, 108.2, 115.4, 122.3, 129.3, 136.3, 143.2,
               150.2, 157.1, 164.2, 171.2, 178.3]
pm_val_1995 = [8.66, 8.57, 7.75, 7.55, 7.6, 7.61, 7.32, 7.91, 8.9, 5.88, 10.23, 10.18, 12.17,
               9.88, 8.49, 6.53, 6.19, 6.28, 6.83, 7.71, 9.23, 6.77, 7.08, 7.0,
               6.53, 6.05, 7.02, 6.8, 6.82]

am_day_1996 = [-3, 5.5, 12.4, 19.6, 26.3, 33.5, 40.4, 47.3, 54.5, 68.1, 75.4, 82.1, 89.2,
               96.1, 103.3, 110.2, 114.9, 116.7, 117.4, 118.9, 120.4, 121.2, 125.4, 131.8,
               138.5, 145.4, 152.3, 159.2, 166.4, 173.3, 180.2]
am_val_1996 = [9.3, 9.16, 8.82, 9.06, 8.03, 7.59, 7.2, 7.0, 7.93, 8.48, 6.61, 7.15, 6.61,
               7.35, 7.25, 4.7, 4.8, 4.4, 4.65, 5.87, 6.85, 7.2, 7.69, 7.74,
               7.54, 7.35, 7.84, 7.69, 6.95, 8.43, 9.06]
pm_day_1996 = [15.4, 22.6, 43.4, 50.6, 57.5, 71.4, 78.4, 85.6, 92.2, 99.6, 106.5, 112.2,
               113.2, 113.9, 114.5, 115.7, 118.2, 119.9, 121.4, 128.4, 141.7, 148.6, 155.5,
               162.4, 169.6, 176.5, 183.5]
pm_val_1996 = [8.03, 8.82, 7.74, 8.23, 7.0, 7.84, 7.0, 6.71, 7.45, 6.81, 7.45, 5.04,
               4.99, 4.8, 5.77, 4.75, 5.19, 6.36, 7.89, 7.69, 6.91, 7.74, 7.45,
               6.12, 7.45, 9.36, 8.82]

am_day_1997 = [-3, 4.6, 11.2, 18.1, 26.3, 32.5, 39.7, 46.3, 53.3, 67.1, 74.0, 81.2, 88.1,
               101.9, 108.8, 116.0, 123.4, 130.2, 137.4, 144.1, 151.0, 158.2, 165.3, 172.3,
               179.2, 187]
am_val_1997 = [11.9, 11.86, 8.73, 7.55, 7.6, 7.21, 8.14, 7.41, 6.87, 6.87, 7.7, 7.45, 8.48,
               7.41, 7.06, 8.82, 7.26, 7.21, 7.75, 7.6, 6.77, 7.85, 9.8, 8.58,
               8.97, 8.9]
pm_day_1997 = [95.0]
pm_val_1997 = [9.31]

YEARS = [1991, 1992, 1993, 1994, 1995, 1996, 1997]
MONTH_LABELS = ["MAY", "JUNE", "JULY", "AUG", "SEPT", "OCT"]
Y_TICKS = [3, 6, 9, 12, 15]

SERIES = {
    1991: (sim_lo_1991, sim_hi_1991, am_day_1991, am_val_1991, pm_day_1991, pm_val_1991),
    1992: (sim_lo_1992, sim_hi_1992, am_day_1992, am_val_1992, pm_day_1992, pm_val_1992),
    1993: (sim_lo_1993, sim_hi_1993, am_day_1993, am_val_1993, pm_day_1993, pm_val_1993),
    1994: (sim_lo_1994, sim_hi_1994, am_day_1994, am_val_1994, pm_day_1994, pm_val_1994),
    1995: (sim_lo_1995, sim_hi_1995, am_day_1995, am_val_1995, pm_day_1995, pm_val_1995),
    1996: (sim_lo_1996, sim_hi_1996, am_day_1996, am_val_1996, pm_day_1996, pm_val_1996),
    1997: (sim_lo_1997, sim_hi_1997, am_day_1997, am_val_1997, pm_day_1997, pm_val_1997),
}

# ---------------------------------------------------------------------------
# Page geometry (pixels)
# ---------------------------------------------------------------------------
W, H = 1639, 1170
LEFT_X0, LEFT_X1 = 43.3, 821.0
RIGHT_X0 = 863.0
PX_PER_DAY = (LEFT_X1 - LEFT_X0) / 184.0
ROW_TOPS = [14.0, 301.7, 589.4, 877.1]
ROW_H = 256.0
PANEL_POS = {1991: (0, 0), 1992: (0, 1), 1993: (0, 2), 1994: (0, 3),
             1995: (1, 1), 1996: (1, 2), 1997: (1, 3)}

AXIS = "#231f20"
BLUE = "#0a7dc2"
FONT = "Liberation Sans, Arial, Helvetica, sans-serif"


def fx(p):
    return p / W


def fy(p):
    return 1 - p / H


fig = go.Figure()
layout = dict(
    width=W, height=H,
    margin=dict(l=0, r=0, t=0, b=0, pad=0, autoexpand=False),
    paper_bgcolor="white", plot_bgcolor="white",
    showlegend=False,
    font=dict(family=FONT, color=AXIS, size=19),
)
annotations = []
shapes = []
extra_axis = 7

for i, yr in enumerate(YEARS, start=1):
    col, row = PANEL_POS[yr]
    x0 = LEFT_X0 if col == 0 else RIGHT_X0
    x1 = LEFT_X1 if col == 0 else W
    span = (x1 - x0) / PX_PER_DAY
    base = datetime(yr, 5, 1)
    top = ROW_TOPS[row]
    xn, yn = f"x{i}", f"y{i}"

    layout[f"xaxis{i}"] = dict(
        domain=[fx(x0), fx(x1)], anchor=yn, type="date", automargin=False,
        range=[base, base + timedelta(days=span)],
        tickmode="array", tickvals=[datetime(yr, m, 1) for m in range(6, 11)],
        ticks="inside", ticklen=13, tickwidth=1.3, tickcolor=AXIS,
        showticklabels=False, showline=True, linecolor=AXIS, linewidth=1.5,
        mirror="ticks", showgrid=False, zeroline=False,
    )
    ydom = [fy(top + ROW_H), fy(top)]
    ycommon = dict(
        range=[3, 15], tickmode="array", tickvals=Y_TICKS, automargin=False,
        ticks="inside", ticklen=14, tickwidth=1.3, tickcolor=AXIS,
        minor=dict(ticks="inside", ticklen=8, tickwidth=1.3, tickcolor=AXIS,
                   tickmode="linear", tick0=3, dtick=1, showgrid=False),
        showgrid=False, zeroline=False,
    )
    layout[f"yaxis{i}"] = dict(
        domain=ydom, anchor=xn, showline=True, linecolor=AXIS, linewidth=1.5,
        mirror=("ticks" if col == 0 else False),
        showticklabels=(col == 0), tickfont=dict(size=19, color=AXIS),
        ticklabelstandoff=8, **ycommon,
    )
    if col == 1:
        # right-hand tick marks at the clipped edge of the panel
        extra_axis += 1
        layout[f"yaxis{extra_axis}"] = dict(
            overlaying=yn, side="right", anchor=xn, showline=False,
            showticklabels=False, **ycommon,
        )

    lo, hi, am_d, am_v, pm_d, pm_v = SERIES[yr]

    # simulated: morning low and afternoon high for every day
    sx, sy = [], []
    for d, (a, b) in enumerate(zip(lo, hi)):
        sx += [base + timedelta(days=d + 0.25), base + timedelta(days=d + 0.7)]
        sy += [a, b]
    fig.add_trace(go.Scatter(x=sx, y=sy, mode="lines", xaxis=xn, yaxis=yn,
                             line=dict(color=BLUE, width=1.5), hoverinfo="skip"))

    # measured: dotted line through all samples in time order
    pts = sorted(list(zip(am_d, am_v)) + list(zip(pm_d, pm_v)))
    fig.add_trace(go.Scatter(
        x=[base + timedelta(days=d) for d, _ in pts], y=[v for _, v in pts],
        mode="lines", xaxis=xn, yaxis=yn,
        line=dict(color="#111111", width=1.6, dash="1.6px,3.6px"), hoverinfo="skip"))

    def in_panel(days, vals):
        keep = [(d, v) for d, v in zip(days, vals) if 0 <= d <= span]
        return [base + timedelta(days=d) for d, _ in keep], [v for _, v in keep]

    ax_, ay_ = in_panel(am_d, am_v)
    fig.add_trace(go.Scatter(x=ax_, y=ay_, mode="markers", xaxis=xn, yaxis=yn,
                             cliponaxis=False, hoverinfo="skip",
                             marker=dict(symbol="circle", size=10, color="#1a1a1a",
                                         line=dict(color="#1a1a1a", width=1))))
    px_, py_ = in_panel(pm_d, pm_v)
    fig.add_trace(go.Scatter(x=px_, y=py_, mode="markers", xaxis=xn, yaxis=yn,
                             cliponaxis=False, hoverinfo="skip",
                             marker=dict(symbol="circle", size=10, color="white",
                                         line=dict(color="#1a1a1a", width=1.3))))

    # year label inside the panel
    annotations.append(dict(text=str(yr), x=fx(x0 + 26.7), y=fy(top + 24.0),
                            xref="paper", yref="paper", xanchor="left", yanchor="middle",
                            showarrow=False, font=dict(size=21, color=AXIS)))

    # month names under the bottom row, centred on each month
    if row == 3:
        for k, name in enumerate(MONTH_LABELS):
            m0 = datetime(yr, 5 + k, 1)
            m1 = datetime(yr, 6 + k, 1)
            mid = m0 + (m1 - m0) / 2
            annotations.append(dict(text=name, x=mid, y=fy(1157.5), xref=xn, yref="paper",
                                    xanchor="center", yanchor="middle", showarrow=False,
                                    font=dict(size=20, color=AXIS)))

# ---------------------------------------------------------------------------
# Explanation block
# ---------------------------------------------------------------------------
annotations.append(dict(text="<b>EXPLANATION</b>", x=fx(1289.5), y=fy(23.5),
                        xref="paper", yref="paper", xanchor="center", yanchor="middle",
                        showarrow=False, font=dict(size=23, color=AXIS)))
legend_rows = [("Simulated", 63.3), ("Measured", 88.3),
               ("Measured morning value", 113.3), ("Measured afternoon value", 138.3)]
for text, yy in legend_rows:
    annotations.append(dict(text=text, x=fx(1196.0), y=fy(yy), xref="paper", yref="paper",
                            xanchor="left", yanchor="middle", showarrow=False,
                            font=dict(size=21, color=AXIS)))
shapes.append(dict(type="line", xref="paper", yref="paper",
                   x0=fx(1134.5), x1=fx(1182.7), y0=fy(63.3), y1=fy(63.3),
                   line=dict(color=BLUE, width=1.5)))
shapes.append(dict(type="line", xref="paper", yref="paper",
                   x0=fx(1134.5), x1=fx(1178.5), y0=fy(88.3), y1=fy(88.3),
                   line=dict(color="#111111", width=1.6, dash="1.6px,3.6px")))
for yy, fill, lw in [(113.3, "#1a1a1a", 1.0), (138.3, "white", 1.3)]:
    shapes.append(dict(type="circle", xref="paper", yref="paper",
                       xsizemode="pixel", ysizemode="pixel",
                       xanchor=fx(1158.3), yanchor=fy(yy), x0=-5, x1=5, y0=-5, y1=5,
                       fillcolor=fill, line=dict(color="#1a1a1a", width=lw)))

annotations.append(dict(text="Tualatin River at River Mile 16.2", x=fx(1289.5), y=fy(201.7),
                        xref="paper", yref="paper", xanchor="center", yanchor="middle",
                        showarrow=False, font=dict(size=23.5, color=AXIS)))
annotations.append(dict(text="(Elsner Road)", x=fx(1284.0), y=fy(232.3),
                        xref="paper", yref="paper", xanchor="center", yanchor="middle",
                        showarrow=False, font=dict(size=23.5, color=AXIS)))

layout["annotations"] = annotations
layout["shapes"] = shapes
fig.update_layout(**layout)

fig.write_html("out.html")
